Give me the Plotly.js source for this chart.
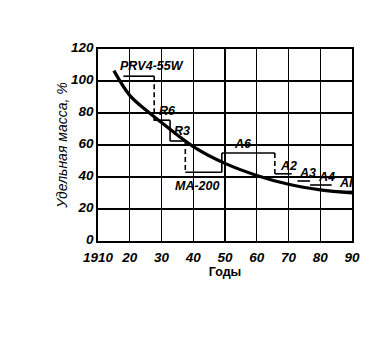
<!DOCTYPE html>
<html><head><meta charset="utf-8">
<script src="https://cdn.plot.ly/plotly-3.0.1.min.js"></script>
<style>html,body{margin:0;padding:0;background:#fff}#c{width:386px;height:363px}</style>
</head><body><div id="c"></div>
<script>
// Trend curve
var curveYears = [1915, 1920, 1925, 1930, 1940, 1950, 1960, 1970, 1980, 1990];
var curveMass  = [106.5, 91, 82, 74, 59, 48.5, 41, 35.5, 32, 30];
// Motor models (steps)
var modelNames = ['PRV4-55W', 'R6', 'R3', 'MA-200', 'A6', 'A2', 'A3', 'A4', 'AI'];
var modelStart = [1918, 1927.5, 1932.7, 1937.5, 1949, 1965.7, 1972.8, 1976.8, 1983.6];
var modelEnd   = [1927.7, 1932.7, 1937.5, 1949, 1965.7, 1971, 1976.8, 1983.6, 1990];
var modelMass  = [103, 75.5, 62.5, 43, 55, 42, 37.5, 35, 31];
var connDash   = ['dash', 'solid', 'dash', 'solid', 'dash', null, null, null];
// Ticks
var xTickVals = [1910, 1920, 1930, 1940, 1950, 1960, 1970, 1980, 1990];
var xTickText = ['1910', '20', '30', '40', '50', '60', '70', '80', '90'];
var yTickVals = [0, 20, 40, 60, 80, 100, 120];

var traces = [];
traces.push({x: curveYears, y: curveMass, mode: 'lines', line: {color: '#000', width: 3.2, shape: 'spline', smoothing: 1}, hoverinfo: 'skip'});
for (var i = 0; i < modelNames.length; i++) {
  traces.push({x: [modelStart[i], modelEnd[i]], y: [modelMass[i], modelMass[i]], mode: 'lines', line: {color: '#000', width: 1.6}, hoverinfo: 'skip'});
  if (i < connDash.length && connDash[i]) {
    traces.push({x: [modelEnd[i], modelEnd[i]], y: [modelMass[i], modelMass[i + 1]], mode: 'lines', line: {color: '#000', width: 1.6, dash: connDash[i] === 'dash' ? '5px,3px' : 'solid'}, hoverinfo: 'skip'});
  }
}
// label offsets (pixels) relative to segment start
var offs = [[-5, 7], [3, 6], [2, 7], [-12, -17], [10, 6], [3, 5], [0, 5], [6, 5], [5, 5]];
var ann = [];
for (var j = 0; j < modelNames.length; j++) {
  ann.push({x: modelStart[j], y: modelMass[j], text: modelNames[j], showarrow: false, xanchor: 'left', yanchor: 'bottom', xshift: offs[j][0], yshift: offs[j][1] - 6,
    font: {family: 'Liberation Sans', size: 12.5, color: '#000', weight: 'bold', style: 'italic'}});
}
var tf = {family: 'Liberation Sans', size: 13.5, color: '#000', style: 'italic', weight: 'bold'};
var layout = {
  width: 386, height: 363,
  margin: {l: 98, r: 34, t: 49, b: 122},
  paper_bgcolor: '#fff', plot_bgcolor: '#fff',
  showlegend: false,
  xaxis: {range: [1910, 1990], tickvals: xTickVals, ticktext: xTickText, showgrid: true, gridcolor: '#000', gridwidth: 1.4,
    showline: true, linecolor: '#000', linewidth: 1.8, mirror: true, zeroline: false, ticks: '', ticklen: 0,
    tickfont: tf, ticklabelstandoff: 3,
    title: {text: 'Годы', font: {family: 'Liberation Sans', size: 12.5, color: '#000', weight: 'bold'}, standoff: 2}},
  yaxis: {range: [0, 120], tickvals: yTickVals, showgrid: true, gridcolor: '#000', gridwidth: 1.4,
    showline: true, linecolor: '#000', linewidth: 1.8, mirror: true, zeroline: false, ticks: '', ticklen: 0,
    tickfont: tf, ticklabelshift: -2,
    title: {text: 'Удельная масса, %', font: {family: 'Liberation Sans', size: 14, color: '#000', style: 'italic'}, standoff: 0}},
  annotations: ann
};
Plotly.newPlot('c', traces, layout, {displayModeBar: false, staticPlot: true});
</script></body></html>
